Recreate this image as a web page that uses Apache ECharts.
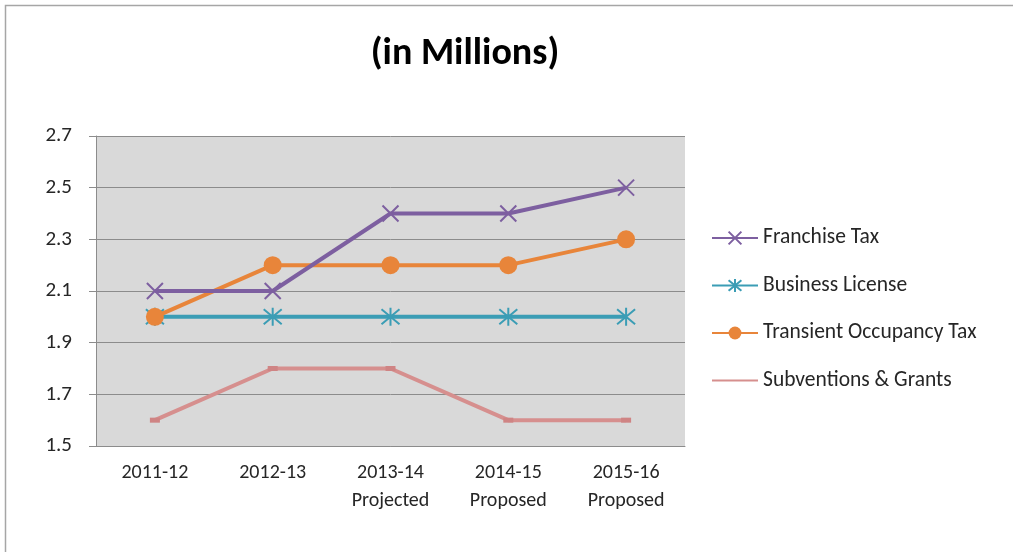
<!DOCTYPE html>
<html>
<head>
<meta charset="utf-8">
<script src="https://cdn.jsdelivr.net/npm/echarts@6/dist/echarts.min.js"></script>
<style>
  html, body { margin: 0; padding: 0; background: #fff; }
  #chart { width: 1013px; height: 552px; }
</style>
</head>
<body>
<div id="chart"></div>
<script>
// Revenue by category, fiscal years 2011-12 to 2015-16 (in millions)
const categories = ['2011-12', '2012-13', '2013-14\nProjected', '2014-15\nProposed', '2015-16\nProposed'];
const franchiseTax = [2.1, 2.1, 2.4, 2.4, 2.5];
const businessLicense = [2.0, 2.0, 2.0, 2.0, 2.0];
const transientOccupancyTax = [2.0, 2.2, 2.2, 2.2, 2.3];
const subventionsGrants = [1.6, 1.8, 1.8, 1.6, 1.6];
const yTicks = { min: 1.5, max: 2.7, step: 0.2 };

const FONT = 'Carlito, Lato, "Open Sans", sans-serif';
const crossPath = 'path://M0,0L10,10M10,0L0,10';
const asteriskPath = 'path://M0,0L10,10M10,0L0,10M5,-1L5,11';

function lineSeries(name, data, color, symbol, size, extra) {
  return Object.assign({
    name: name,
    type: 'line',
    data: data,
    symbol: symbol,
    symbolSize: size,
    showAllSymbol: true,
    lineStyle: { color: color, width: 4 },
    itemStyle: { color: color, borderColor: color, borderWidth: 2 },
    emphasis: { disabled: true },
    animation: false
  }, extra || {});
}

const chart = echarts.init(document.getElementById('chart'));
chart.setOption({
  backgroundColor: '#ffffff',
  title: {
    text: '(in Millions)',
    left: 460,
    top: 30,
    textAlign: 'center',
    textStyle: { fontFamily: FONT, fontSize: 38, fontWeight: 'bold', color: '#000' }
  },
  graphic: [
    { type: 'polyline', shape: { points: [[5.5, 560], [5.5, 5.5], [1013, 5.5]] },
      style: { stroke: '#a6a6a6', lineWidth: 1.5, fill: null }, silent: true }
  ],
  legend: {
    orient: 'vertical',
    left: 706,
    top: 222,
    itemWidth: 46,
    itemHeight: 16,
    itemGap: 25.5,
    textStyle: { fontFamily: FONT, fontSize: 21.5, color: '#262626' },
    data: [
      'Franchise Tax',
      'Business License',
      'Transient Occupancy Tax',
      { name: 'Subventions & Grants', itemStyle: { opacity: 0 } }
    ]
  },
  grid: {
    left: 96, top: 136, width: 589, height: 310,
    show: true, backgroundColor: '#d9d9d9', borderWidth: 0
  },
  xAxis: {
    type: 'category',
    data: categories,
    boundaryGap: true,
    axisLine: { lineStyle: { color: '#8c8c8c', width: 1 } },
    axisTick: { length: 6, lineStyle: { color: '#8c8c8c' } },
    axisLabel: { fontFamily: FONT, fontSize: 20, color: '#262626', lineHeight: 28, margin: 13 }
  },
  yAxis: {
    type: 'value',
    min: yTicks.min,
    max: yTicks.max,
    interval: yTicks.step,
    axisLine: { show: true, lineStyle: { color: '#8c8c8c', width: 1 } },
    axisTick: { show: true, length: 7, lineStyle: { color: '#8c8c8c' } },
    splitLine: { lineStyle: { color: '#8c8c8c', width: 1 } },
    axisLabel: {
      fontFamily: FONT, fontSize: 21, color: '#262626', margin: 24,
      formatter: v => v.toFixed(1)
    }
  },
  series: [
    lineSeries('Franchise Tax', franchiseTax, '#7d5fa0', crossPath, 16, { z: 4 }),
    lineSeries('Business License', businessLicense, '#3b9db5', asteriskPath, 18, { z: 2 }),
    lineSeries('Transient Occupancy Tax', transientOccupancyTax, '#e8853a', 'circle', 18,
      { z: 3, itemStyle: { color: '#e8853a', borderWidth: 0 } }),
    lineSeries('Subventions & Grants', subventionsGrants, '#d68f8e', 'rect', [10, 5],
      { z: 1, itemStyle: { color: '#cf8484', borderWidth: 0 } })
  ]
});
</script>
</body>
</html>
